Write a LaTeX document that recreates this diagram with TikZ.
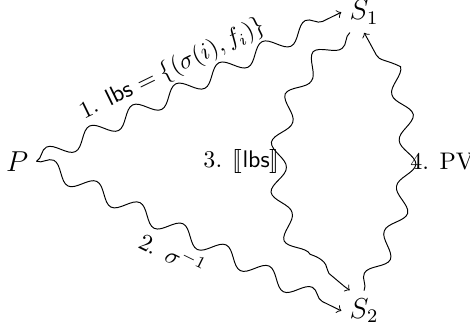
\documentclass[tikz,border=0pt]{standalone}
\usepackage{amsmath,amssymb}
\usepackage{stmaryrd}
\usepackage{tikz}
\usetikzlibrary{decorations.pathmorphing}

\begin{document}
\begin{tikzpicture}[>=To,line cap=round,
  wavy/.style={->,decorate,decoration={snake,amplitude=3.5pt,segment length=20pt,post length=1mm}}]
\useasboundingbox (0,0) rectangle (6.88,-4.80);
\node (P) at (0.25,-2.36) {\large $P$};
\node (S1) at (5.33,-0.18) {\large $S_1$};
\node (S2) at (5.33,-4.55) {\large $S_2$};
\draw[wavy] (P.east) -- node[sloped,above=1pt,pos=0.48] {1. $\textsf{lbs} = \{(\sigma(i), f_i)\}$} (S1.west);
\draw[wavy] (P.east) -- node[sloped,below=2pt,pos=0.48] {2. $\sigma^{-1}$} (S2.west);
\draw[wavy] ([xshift=-6pt]S1.south) to[bend right=55] node[left] {3. $\llbracket\textsf{lbs}\rrbracket$} ([xshift=-6pt]S2.north);
\draw[wavy] (S2.north) to[bend right=30] node[right] {4. PV} (S1.south);
\end{tikzpicture}
\end{document}
